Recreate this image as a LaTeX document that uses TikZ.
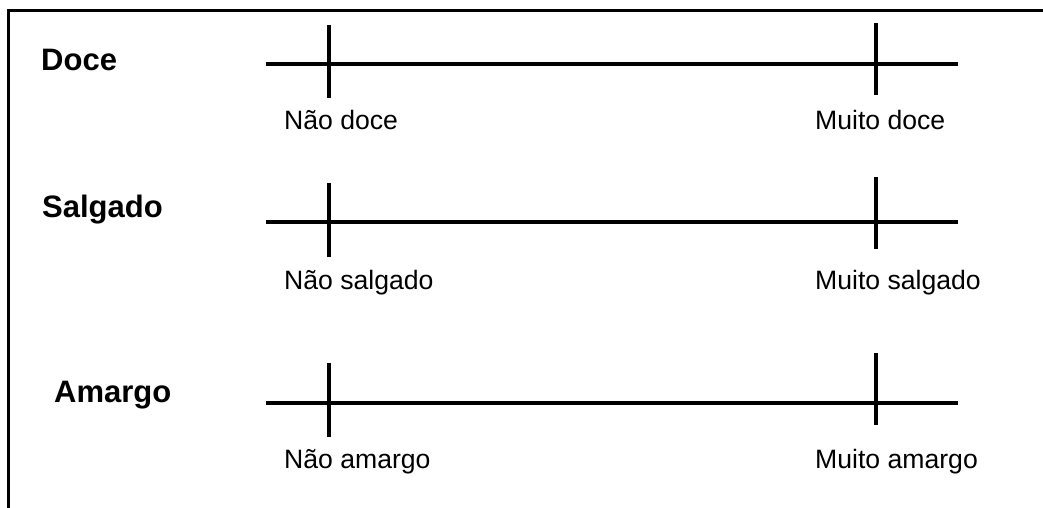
\documentclass[tikz,border=0pt]{standalone}
\usepackage{fontspec}
\setmainfont{Liberation Sans}
\usepackage{tikz}

\tikzset{
  title/.style={anchor=base west,inner sep=0pt,font=\fontsize{31}{35}\selectfont\bfseries},
  endlabel/.style={anchor=base west,inner sep=0pt,font=\fontsize{26.6}{30}\selectfont},
  scale line/.style={line width=4pt}
}

\begin{document}
\begin{tikzpicture}[x=1pt,y=-1pt]
        % background
        \useasboundingbox (0,0) rectangle (1043,508);
        \coordinate (fb) at (8,508);
        \coordinate (fc) at (8,11);
        \coordinate (fr) at (1043,11);
        \draw[line width=3pt] (fb) -- (fc) -- (fr);
        % scales: name/line y/title x/title base/left tick/right tick/label base
        \foreach \n/\y/\tx/\tb/\la/\lb/\ra/\rb/\lab/\ttl/\lo/\hi in
            {doce/64/41/71/25/98/23/95/129/Doce/Não doce/Muito doce,
             salg/222/42/217/183/257/177/249/289/Salgado/Não salgado/Muito salgado,
             amar/403/54/402/363/437/353/425/468/Amargo/Não amargo/Muito amargo}
        {
          \node[title] (\n-title) at (\tx,\tb) {\ttl};
          \coordinate (\n-a) at (266,\y);
          \coordinate (\n-b) at (958,\y);
          \coordinate (\n-l1) at (329,\la);
          \coordinate (\n-l2) at (329,\lb);
          \coordinate (\n-r1) at (876,\ra);
          \coordinate (\n-r2) at (876,\rb);
          \draw[scale line] (\n-a) -- (\n-b);
          \draw[scale line] (\n-l1) -- (\n-l2);
          \draw[scale line] (\n-r1) -- (\n-r2);
          \node[endlabel] (\n-lo) at (284,\lab) {\lo};
          \node[endlabel] (\n-hi) at (815,\lab) {\hi};
        }
      \end{tikzpicture}
\end{document}
